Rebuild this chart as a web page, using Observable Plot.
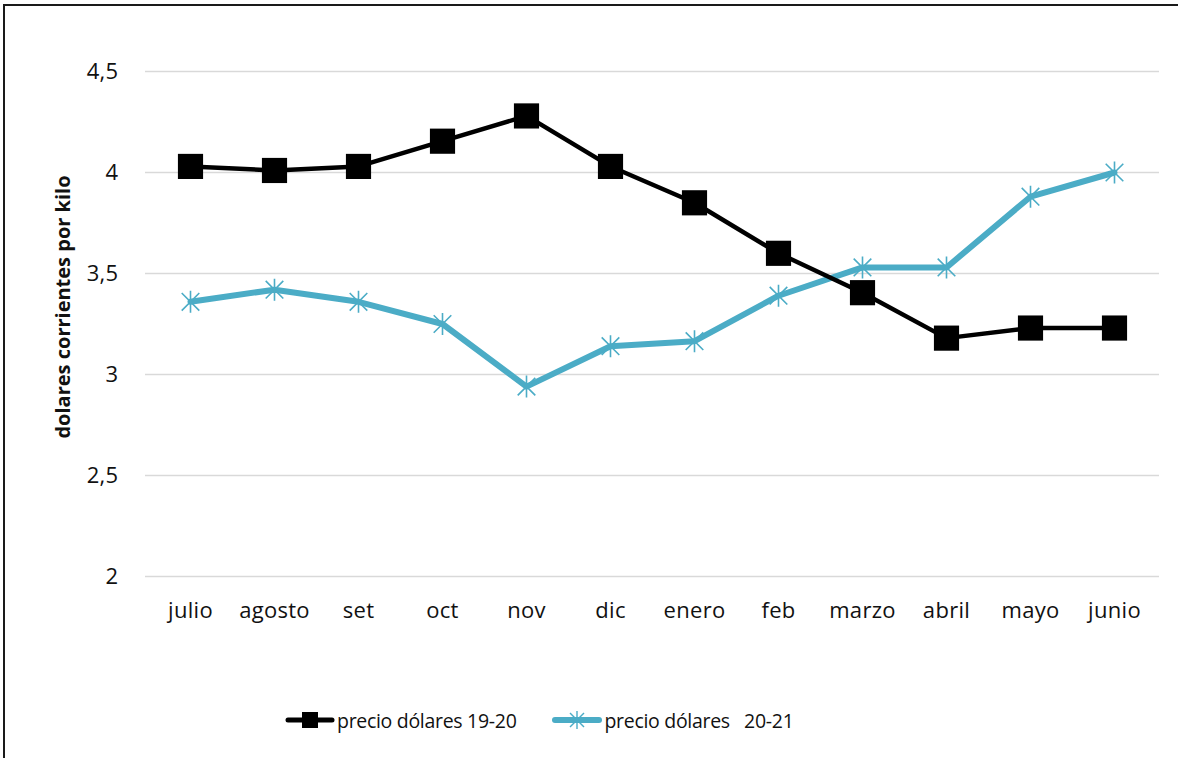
<!DOCTYPE html>
<html>
<head>
<meta charset="utf-8">
<script src="https://cdn.jsdelivr.net/npm/d3@7"></script>
<script src="https://cdn.jsdelivr.net/npm/@observablehq/plot@0.6"></script>
<style>
  html, body { margin: 0; padding: 0; background: #fff; }
  #wrap { position: relative; width: 1178px; height: 758px; overflow: hidden; font-family: "Open Sans", "Noto Sans", sans-serif; }
  #btop { position: absolute; left: 3px; top: 4px; width: 1175px; height: 2px; background: #1a1a1a; }
  #bleft { position: absolute; left: 3px; top: 4px; width: 2px; height: 754px; background: #1a1a1a; }
  #chart { position: absolute; left: 0; top: 0; }
  #chart svg g[aria-label="x-axis tick label"] text,
  #chart svg g[aria-label="y-axis tick label"] text { letter-spacing: 0.3px; }
  #legend { position: absolute; left: 285px; top: 700px; height: 40px; display: flex; align-items: center; font-size: 19.5px; letter-spacing: -0.3px; color: #111; white-space: pre; }
  .item { display: flex; align-items: center; }
</style>
</head>
<body>
<div id="wrap">
  <div id="chart"></div>
  <div id="legend"></div>
  <div id="btop"></div>
  <div id="bleft"></div>
</div>
<script>
const months = ["julio", "agosto", "set", "oct", "nov", "dic", "enero", "feb", "marzo", "abril", "mayo", "junio"];
const precio1920 = [4.03, 4.01, 4.03, 4.155, 4.28, 4.03, 3.85, 3.60, 3.405, 3.18, 3.23, 3.23];
const precio2021 = [3.36, 3.42, 3.36, 3.25, 2.94, 3.14, 3.165, 3.39, 3.53, 3.53, 3.88, 4.00];
const seriesNames = ["precio dólares 19-20", "precio dólares   20-21"];
const seriesColors = ["#000000", "#4BACC6"];
const yTicks = [2, 2.5, 3, 3.5, 4, 4.5];
const yTickLabels = ["2", "2,5", "3", "3,5", "4", "4,5"];
const yLabel = "dolares corrientes por kilo";

const d1 = months.map((m, i) => ({month: m, value: precio1920[i]}));
const d2 = months.map((m, i) => ({month: m, value: precio2021[i]}));

const star = {
  draw(ctx, size) {
    const r = Math.sqrt(size / Math.PI);
    const d = r * 0.8;
    ctx.moveTo(-d, -d); ctx.lineTo(d, d);
    ctx.moveTo(-d, d); ctx.lineTo(d, -d);
    ctx.moveTo(0, -r); ctx.lineTo(0, r);
  }
};

const plot = Plot.plot({
  width: 1178,
  height: 650,
  marginLeft: 145,
  marginRight: 19,
  marginTop: 71,
  marginBottom: 74,
  style: {fontFamily: "'Open Sans', 'Noto Sans', sans-serif", fontSize: "22px", color: "#111", background: "transparent"},
  x: {type: "point", domain: months, padding: 0.5},
  y: {domain: [2, 4.5]},
  marks: [
    Plot.ruleY(yTicks, {stroke: "#d9d9d9", strokeWidth: 1.5}),
    Plot.axisY({ticks: yTicks, tickFormat: (d) => yTickLabels[yTicks.indexOf(d)], tickSize: 0, tickPadding: 27, label: null, fontSize: 22}),
    Plot.axisX({tickSize: 0, tickPadding: 26, label: null, fontSize: 22}),
    Plot.text([yLabel], {frameAnchor: "left", textAnchor: "middle", rotate: -90, dx: -82, dy: -17, fontWeight: "bold", fontSize: 20, fill: "#111"}),
    Plot.line(d2, {x: "month", y: "value", stroke: seriesColors[1], strokeWidth: 6, strokeLinejoin: "round", strokeLinecap: "round"}),
    Plot.dot(d2, {x: "month", y: "value", symbol: star, r: 11, stroke: seriesColors[1], strokeWidth: 1.6, fill: "none"}),
    Plot.line(d1, {x: "month", y: "value", stroke: seriesColors[0], strokeWidth: 4.5, strokeLinejoin: "round", strokeLinecap: "round"}),
    Plot.dot(d1, {x: "month", y: "value", symbol: "square", r: 14.2, fill: seriesColors[0], stroke: "none"})
  ]
});
document.getElementById("chart").appendChild(plot);

// Legend
const legend = d3.select("#legend");
seriesNames.forEach((name, i) => {
  const item = legend.append("div").attr("class", "item").style("margin-right", i === 0 ? "36px" : "0px");
  const s = item.append("svg").attr("width", 50).attr("height", 24).style("margin-right", "2px");
  s.append("line").attr("x1", 3).attr("x2", 47).attr("y1", 12).attr("y2", 12)
    .attr("stroke", seriesColors[i]).attr("stroke-width", i === 0 ? 5 : 6).attr("stroke-linecap", "round");
  if (i === 0) {
    s.append("rect").attr("x", 17).attr("y", 4).attr("width", 16).attr("height", 16).attr("fill", seriesColors[i]);
  } else {
    const g = s.append("g").attr("stroke", seriesColors[i]).attr("stroke-width", 1.4);
    g.append("line").attr("x1", 18).attr("y1", 5).attr("x2", 32).attr("y2", 19);
    g.append("line").attr("x1", 18).attr("y1", 19).attr("x2", 32).attr("y2", 5);
    g.append("line").attr("x1", 25).attr("y1", 3).attr("x2", 25).attr("y2", 21);
  }
  item.append("span").text(name);
});
</script>
</body>
</html>
